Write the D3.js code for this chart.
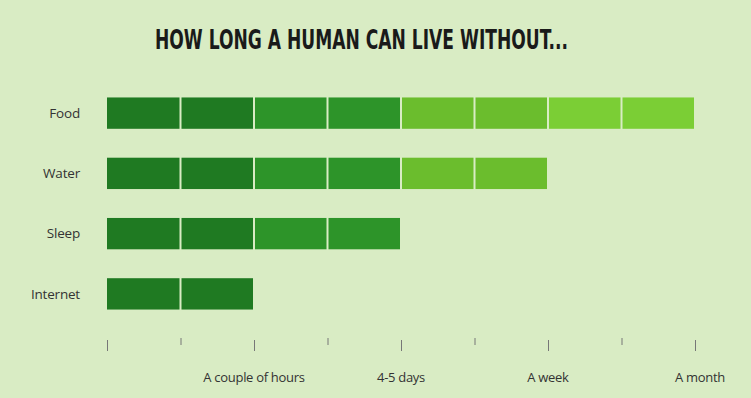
<!DOCTYPE html>
<html>
<head>
<meta charset="utf-8">
<script src="https://cdn.jsdelivr.net/npm/d3@7/dist/d3.min.js"></script>
<style>
  html, body { margin: 0; padding: 0; background: #d9ecc4; }
  svg { display: block; }
</style>
</head>
<body>
<svg id="chart" width="751" height="398"></svg>
<script>
const categories = ["Food", "Water", "Sleep", "Internet"];
const segments = [8, 6, 4, 2];
const tickLabels = ["A couple of hours", "4-5 days", "A week", "A month"];
const tickLabelAt = [2, 4, 6, 8];
const segmentColors = ["#1f7a22", "#1f7a22", "#2d9429", "#2d9429", "#6bbd2d", "#6bbd2d", "#7bce35", "#7bce35"];
const title = "HOW LONG A HUMAN CAN LIVE WITHOUT...";

const svg = d3.select("#chart");
svg.append("rect").attr("width", 751).attr("height", 398).attr("fill", "#d9ecc4");

const x = d3.scaleLinear().domain([0, 8]).range([107, 695]);
const y = d3.scaleBand().domain(categories).range([83, 324]).paddingInner(0.48).paddingOuter(0.24);

svg.append("text")
  .attr("x", 155).attr("y", 49)
  .attr("font-family", "'Liberation Sans Narrow', 'DejaVu Sans Condensed', sans-serif")
  .attr("font-weight", "bold").attr("font-size", 26)
  .attr("fill", "#1a1a1a")
  .attr("textLength", 413).attr("lengthAdjust", "spacingAndGlyphs")
  .text(title);

// category labels
svg.append("g").selectAll("text").data(categories).join("text")
  .attr("x", 80).attr("y", d => y(d) + y.bandwidth() / 2)
  .attr("dy", "0.35em").attr("text-anchor", "end")
  .attr("font-family", "'Open Sans', sans-serif").attr("font-size", 13.5)
  .attr("letter-spacing", -0.2)
  .attr("fill", "#333").text(d => d);

// bars as segments
const segData = [];
categories.forEach((c, i) => {
  for (let s = 0; s < segments[i]; s++) segData.push({ c, s });
});
svg.append("g").selectAll("rect").data(segData).join("rect")
  .attr("x", d => x(d.s) + (d.s === 0 ? 0 : 1))
  .attr("y", d => y(d.c))
  .attr("width", d => x(d.s + 1) - x(d.s) - (d.s === 0 ? 1 : 2))
  .attr("height", y.bandwidth())
  .attr("fill", d => segmentColors[d.s]);

// axis ticks
const axisG = svg.append("g").attr("transform", "translate(0,336)");
const axis = d3.axisBottom(x).tickValues(d3.range(0, 9)).tickSize(0).tickFormat("");
axisG.call(axis);
axisG.select(".domain").remove();
axisG.selectAll(".tick line")
  .attr("y1", d => d % 2 === 0 ? 4 : 2)
  .attr("y2", d => d % 2 === 0 ? 15 : 9)
  .attr("stroke", "#777").attr("stroke-width", 1);

svg.append("g").selectAll("text").data(tickLabels).join("text")
  .attr("x", (d, i) => x(tickLabelAt[i]) + (i === 3 ? 5 : 0))
  .attr("y", 382).attr("text-anchor", "middle")
  .attr("font-family", "'Open Sans', sans-serif").attr("font-size", 13)
  .attr("letter-spacing", -0.3)
  .attr("fill", "#333").text(d => d);
</script>
</body>
</html>
